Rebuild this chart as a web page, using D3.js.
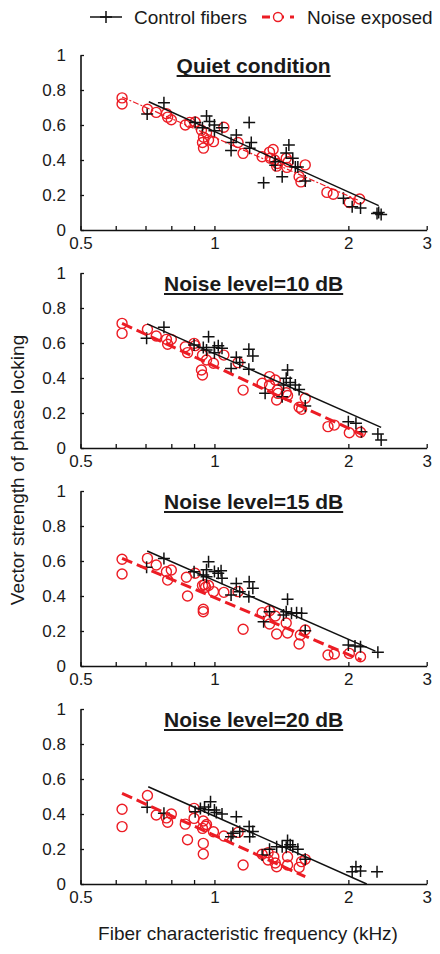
<!DOCTYPE html>
<html><head><meta charset="utf-8">
<script src="https://cdn.jsdelivr.net/npm/d3@7"></script>
<style>body{margin:0;background:#fff}svg{display:block}text{font-family:"Liberation Sans",Arial,sans-serif;fill:#1a1a1a}</style>
</head><body><svg id="c" width="440" height="954"></svg>
<script>
// ---- data (frequency kHz, vector strength) ----
const panelTitles = ["Quiet condition", "Noise level=10 dB", "Noise level=15 dB", "Noise level=20 dB"];
const legendLabels = ["Control fibers", "Noise exposed"];
const xTickValues = [0.5, 0.6, 0.7, 0.8, 0.9, 1, 2, 3];
const xTickLabels = ["0.5", "", "", "", "", "1", "2", "3"];
const yTickValues = [0, 0.2, 0.4, 0.6, 0.8, 1];
const yTickLabels = ["0", "0.2", "0.4", "0.6", "0.8", "1"];

const controlQuiet = [[0.706,0.663],[0.77,0.727],[0.905,0.615],[0.94,0.585],[0.96,0.652],[0.975,0.62],[1.0,0.60],[1.0,0.567],[1.04,0.585],[1.12,0.543],[1.09,0.50],[1.09,0.455],[1.197,0.614],[1.21,0.50],[1.20,0.467],[1.29,0.27],[1.37,0.39],[1.37,0.37],[1.42,0.305],[1.45,0.44],[1.47,0.486],[1.50,0.41],[1.52,0.36],[1.54,0.36],[1.60,0.28],[1.95,0.181],[2.04,0.133],[2.13,0.126],[2.32,0.095],[2.37,0.088],[2.34,0.1]];
const noiseQuiet = [[0.62,0.755],[0.62,0.72],[0.707,0.69],[0.74,0.672],[0.78,0.665],[0.785,0.645],[0.80,0.63],[0.86,0.60],[0.88,0.615],[0.905,0.617],[0.935,0.57],[0.96,0.556],[0.945,0.53],[0.97,0.515],[0.94,0.50],[0.945,0.468],[0.995,0.505],[1.05,0.587],[1.13,0.50],[1.16,0.438],[1.28,0.419],[1.33,0.445],[1.355,0.46],[1.335,0.41],[1.365,0.40],[1.385,0.38],[1.38,0.365],[1.45,0.41],[1.465,0.39],[1.455,0.358],[1.60,0.372],[1.55,0.305],[1.565,0.275],[1.79,0.215],[1.85,0.204],[2.01,0.157],[2.12,0.177]];

const control10 = [[0.704,0.627],[0.77,0.69],[0.9,0.589],[0.944,0.575],[0.97,0.636],[0.96,0.56],[1.0,0.575],[1.02,0.585],[1.04,0.57],[1.0,0.545],[1.12,0.518],[1.09,0.455],[1.14,0.488],[1.195,0.564],[1.22,0.526],[1.195,0.45],[1.3,0.313],[1.46,0.446],[1.45,0.398],[1.48,0.375],[1.43,0.36],[1.42,0.293],[1.52,0.36],[1.55,0.335],[1.6,0.24],[2.0,0.15],[2.08,0.141],[2.14,0.093],[2.33,0.08],[2.37,0.046]];
const noise10 = [[0.62,0.712],[0.62,0.655],[0.707,0.678],[0.74,0.64],[0.78,0.621],[0.80,0.621],[0.785,0.593],[0.86,0.579],[0.87,0.545],[0.90,0.598],[0.905,0.585],[0.94,0.531],[0.96,0.503],[0.935,0.446],[0.94,0.417],[0.995,0.484],[1.05,0.531],[1.13,0.488],[1.16,0.331],[1.28,0.37],[1.33,0.408],[1.37,0.389],[1.33,0.36],[1.385,0.331],[1.38,0.274],[1.39,0.312],[1.45,0.316],[1.46,0.30],[1.6,0.284],[1.55,0.233],[1.57,0.221],[1.8,0.122],[1.86,0.131],[2.01,0.087],[2.13,0.09]];

const control15 = [[0.704,0.564],[0.77,0.615],[0.9,0.539],[0.944,0.52],[0.97,0.596],[0.96,0.55],[1.0,0.54],[1.02,0.53],[1.035,0.545],[0.96,0.51],[1.04,0.501],[1.12,0.472],[1.09,0.406],[1.14,0.425],[1.197,0.482],[1.22,0.444],[1.195,0.396],[1.29,0.253],[1.33,0.31],[1.46,0.381],[1.45,0.31],[1.49,0.301],[1.43,0.291],[1.53,0.305],[1.57,0.301],[1.6,0.202],[2.0,0.12],[2.07,0.114],[2.13,0.11],[2.33,0.078]];
const noise15 = [[0.62,0.61],[0.62,0.526],[0.707,0.615],[0.74,0.577],[0.78,0.539],[0.80,0.549],[0.785,0.491],[0.865,0.507],[0.87,0.40],[0.905,0.53],[0.94,0.46],[0.955,0.45],[0.95,0.465],[0.97,0.46],[0.944,0.324],[0.944,0.31],[0.995,0.425],[1.05,0.421],[1.13,0.425],[1.16,0.21],[1.28,0.305],[1.33,0.316],[1.37,0.286],[1.33,0.24],[1.38,0.183],[1.45,0.246],[1.46,0.189],[1.6,0.206],[1.56,0.177],[1.55,0.126],[1.8,0.063],[1.86,0.069],[2.01,0.072],[2.13,0.053]];

const control20 = [[0.706,0.438],[0.77,0.404],[0.905,0.413],[0.93,0.432],[0.95,0.44],[0.98,0.47],[0.97,0.425],[1.0,0.423],[1.01,0.408],[1.04,0.40],[1.12,0.385],[1.1,0.29],[1.09,0.27],[1.14,0.30],[1.197,0.328],[1.22,0.30],[1.2,0.27],[1.28,0.166],[1.33,0.198],[1.38,0.213],[1.42,0.213],[1.46,0.248],[1.45,0.21],[1.5,0.213],[1.54,0.198],[1.48,0.225],[1.6,0.141],[2.04,0.07],[2.08,0.099],[2.13,0.074],[2.32,0.07]];
const noise20 = [[0.62,0.427],[0.62,0.328],[0.707,0.506],[0.74,0.394],[0.78,0.378],[0.80,0.40],[0.785,0.353],[0.86,0.342],[0.87,0.253],[0.90,0.432],[0.90,0.375],[0.944,0.36],[0.96,0.34],[0.94,0.318],[0.955,0.33],[0.944,0.232],[0.944,0.171],[0.995,0.299],[1.05,0.274],[1.13,0.295],[1.16,0.109],[1.28,0.17],[1.32,0.179],[1.32,0.137],[1.36,0.155],[1.38,0.099],[1.37,0.12],[1.46,0.156],[1.46,0.109],[1.55,0.095],[1.57,0.128],[1.6,0.141]];

// fitted trend lines: [f start, v start, f end, v end]
const controlFits = [[0.712,0.733,2.34,0.139],[0.706,0.709,2.37,0.118],[0.706,0.657,2.3,0.085],[0.71,0.556,2.2,0.0]];
const noiseFits = [[0.62,0.76,2.1,0.171],[0.62,0.712,2.16,0.074],[0.62,0.615,2.14,0.034],[0.62,0.518,1.6,0.042]];

const controlSets = [controlQuiet, control10, control15, control20];
const noiseSets = [noiseQuiet, noise10, noise15, noise20];

// ---- layout ----
const RED = "#ec1c24";
const svg = d3.select("#c");
const x = d3.scaleLog().domain([0.5, 3]).range([80.5, 426.7]);
const panelBottoms = [230, 448, 666, 884];
const panelH = 175;

const crossPath = "M-6,0H6M0,-6V6";

panelTitles.forEach((title, i) => {
  const b = panelBottoms[i];
  const y = d3.scaleLinear().domain([0, 1]).range([b, b - panelH]);
  const g = svg.append("g");

  // axes
  const xAxis = d3.axisBottom(x).tickValues(xTickValues)
    .tickFormat((d, k) => xTickLabels[k]).tickSize(-4).tickSizeOuter(0).tickPadding(7);
  const gx = g.append("g").attr("transform", `translate(0,${b})`).call(xAxis);
  const yAxis = d3.axisLeft(y).tickValues(yTickValues)
    .tickFormat((d, k) => yTickLabels[k]).tickSize(-3.5).tickSizeOuter(0).tickPadding(14.5);
  const gy = g.append("g").attr("transform", `translate(${x(0.5)},0)`).call(yAxis);
  [gx, gy].forEach(a => {
    a.select(".domain").attr("stroke", "#111").attr("stroke-width", 1.6);
    a.selectAll(".tick line").attr("stroke", "#111").attr("stroke-width", 1.3);
    a.selectAll(".tick text").style("font-size", "17px").attr("fill", "#1a1a1a")
      .style("font-family", '"Liberation Sans",Arial,sans-serif');
  });

  // markers
  g.append("g").selectAll("circle").data(noiseSets[i]).join("circle")
    .attr("cx", d => x(d[0])).attr("cy", d => y(d[1])).attr("r", 5)
    .attr("fill", "none").attr("stroke", RED).attr("stroke-width", 1.4);
  g.append("g").selectAll("path").data(controlSets[i]).join("path")
    .attr("d", crossPath).attr("transform", d => `translate(${x(d[0])},${y(d[1])})`)
    .attr("fill", "none").attr("stroke", "#111").attr("stroke-width", 1.5);

  // trend lines
  const nf = noiseFits[i];
  g.append("line").attr("x1", x(nf[0])).attr("y1", y(nf[1])).attr("x2", x(nf[2])).attr("y2", y(nf[3]))
    .attr("stroke", RED)
    .attr("stroke-width", i === 0 ? 1.2 : 3)
    .attr("stroke-dasharray", i === 0 ? "6,2,2,2" : "11,5");
  const cf = controlFits[i];
  g.append("line").attr("x1", x(cf[0])).attr("y1", y(cf[1])).attr("x2", x(cf[2])).attr("y2", y(cf[3]))
    .attr("stroke", "#111").attr("stroke-width", 1.5);

  // title (bold, underlined)
  const cx = (x.range()[0] + x.range()[1]) / 2;
  const ty = b - panelH + 17.5;
  const t = g.append("text").attr("x", cx).attr("y", ty).attr("text-anchor", "middle")
    .style("font-size", "21px").style("font-weight", "bold").attr("fill", "#1a1a1a").text(title);
  const w = t.node().getComputedTextLength();
  g.append("line").attr("x1", cx - w / 2).attr("x2", cx + w / 2).attr("y1", ty + 3.5).attr("y2", ty + 3.5)
    .attr("stroke", "#1a1a1a").attr("stroke-width", 1.8);
});

// axis labels
svg.append("text").attr("x", 248).attr("y", 940).attr("text-anchor", "middle")
  .style("font-size", "19px").text("Fiber characteristic frequency (kHz)");
svg.append("text").attr("transform", "translate(24,470) rotate(-90)").attr("text-anchor", "middle")
  .style("font-size", "19px").text("Vector strength of phase locking");

// legend
const lg = svg.append("g");
lg.append("line").attr("x1", 90).attr("x2", 122).attr("y1", 17).attr("y2", 17).attr("stroke", "#111").attr("stroke-width", 1.5);
lg.append("path").attr("d", crossPath).attr("transform", "translate(106,17)").attr("stroke", "#111").attr("stroke-width", 1.5);
lg.append("text").attr("x", 134).attr("y", 23.5).style("font-size", "19px").text(legendLabels[0]);
lg.append("line").attr("x1", 262).attr("x2", 294).attr("y1", 17).attr("y2", 17).attr("stroke", RED).attr("stroke-width", 3).attr("stroke-dasharray", "8,6");
lg.append("circle").attr("cx", 278).attr("cy", 17).attr("r", 4.5).attr("fill", "#fff").attr("stroke", RED).attr("stroke-width", 1.4);
lg.append("text").attr("x", 307).attr("y", 23.5).style("font-size", "19px").text(legendLabels[1]);
</script></body></html>
